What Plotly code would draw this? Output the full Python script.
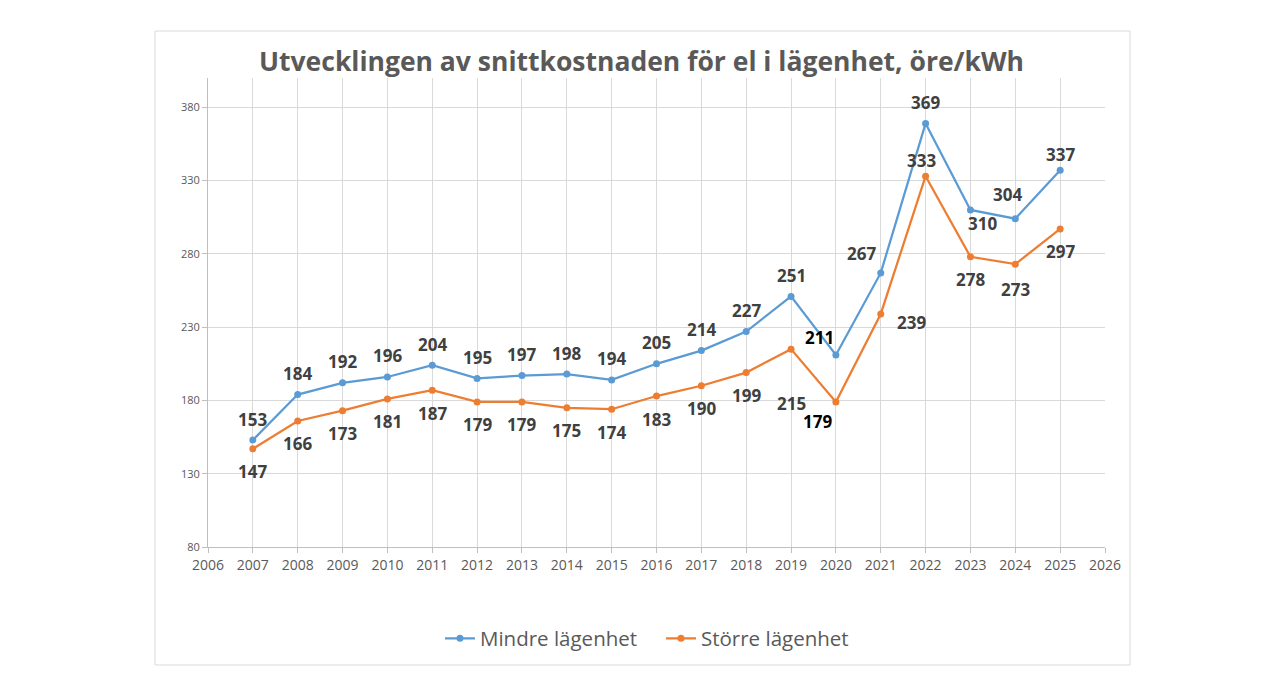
import plotly.graph_objects as go

years = [2007, 2008, 2009, 2010, 2011, 2012, 2013, 2014, 2015, 2016, 2017, 2018, 2019, 2020, 2021, 2022, 2023, 2024, 2025]
mindre = [153, 184, 192, 196, 204, 195, 197, 198, 194, 205, 214, 227, 251, 211, 267, 369, 310, 304, 337]
storre = [147, 166, 173, 181, 187, 179, 179, 175, 174, 183, 190, 199, 215, 179, 239, 333, 278, 273, 297]
series_names = ["Mindre lägenhet", "Större lägenhet"]
title_text = "Utvecklingen av snittkostnaden för el i lägenhet, öre/kWh"

BLUE = "#5B9BD5"
ORANGE = "#ED7D31"
FONT = "Open Sans"

# label offsets in pixels (dx, dy up-positive)
m_off = {y: (0, 21) for y in years}
m_off.update({2020: (-16, 18), 2021: (-19, 19), 2023: (12, -14), 2024: (-8, 24), 2025: (0, 16)})
s_off = {y: (0, -23) for y in years}
s_off.update({2019: (0, -54), 2020: (-18, -20), 2021: (31, -9), 2022: (-4, 16), 2024: (0, -25)})
dark_years = {2020}

fig = go.Figure()
for name, vals, col in [(series_names[0], mindre, BLUE), (series_names[1], storre, ORANGE)]:
    fig.add_trace(go.Scatter(x=years, y=vals, name=name, mode="lines+markers",
                             line=dict(color=col, width=2.25),
                             marker=dict(color=col, size=7)))

ann = []
for vals, off in [(mindre, m_off), (storre, s_off)]:
    for yr, v in zip(years, vals):
        dx, dy = off[yr]
        ann.append(dict(x=yr, y=v, text=str(v), showarrow=False, xshift=dx, yshift=dy,
                        xanchor="center", yanchor="middle",
                        font=dict(family=FONT, size=17, color="#000000" if yr in dark_years else "#404040",
                                  weight="bold")))
ann.append(dict(x=0.4838, y=1.037, xref="paper", yref="paper", text=title_text, showarrow=False,
                xanchor="center", yanchor="middle",
                font=dict(family=FONT, size=26.5, color="#595959", weight="bold")))
fig.update_layout(annotations=ann)

fig.add_shape(type="rect", xref="paper", yref="paper", x0=-0.0591, x1=1.0279, y0=-0.2516, y1=1.1002,
              line=dict(color="#d9d9d9", width=1), layer="below")

fig.update_layout(
    width=1284, height=696,
    margin=dict(l=200, r=187, t=70, b=157),
    paper_bgcolor="white", plot_bgcolor="white",
    showlegend=True,
    legend=dict(orientation="h", x=0.505, xanchor="center", y=-0.195, yanchor="middle",
                font=dict(family=FONT, size=20.5, color="#595959"), itemwidth=30,
                entrywidth=176, entrywidthmode="pixels"),
    xaxis=dict(range=[2006, 2026], tick0=2006, dtick=1, showgrid=True, gridcolor="#d9d9d9",
               showline=True, linecolor="#bfbfbf", ticks="outside", tickcolor="#bfbfbf", ticklen=5,
               tickfont=dict(family=FONT, size=14, color="#595959"), zeroline=False),
    yaxis=dict(range=[80, 400], tick0=80, dtick=50, showgrid=True, gridcolor="#d9d9d9",
               showline=True, linecolor="#bfbfbf", ticks="outside", tickcolor="#bfbfbf", ticklen=5,
               tickfont=dict(family=FONT, size=11, color="#595959"), zeroline=False),
)

fig.write_html("out.html")
